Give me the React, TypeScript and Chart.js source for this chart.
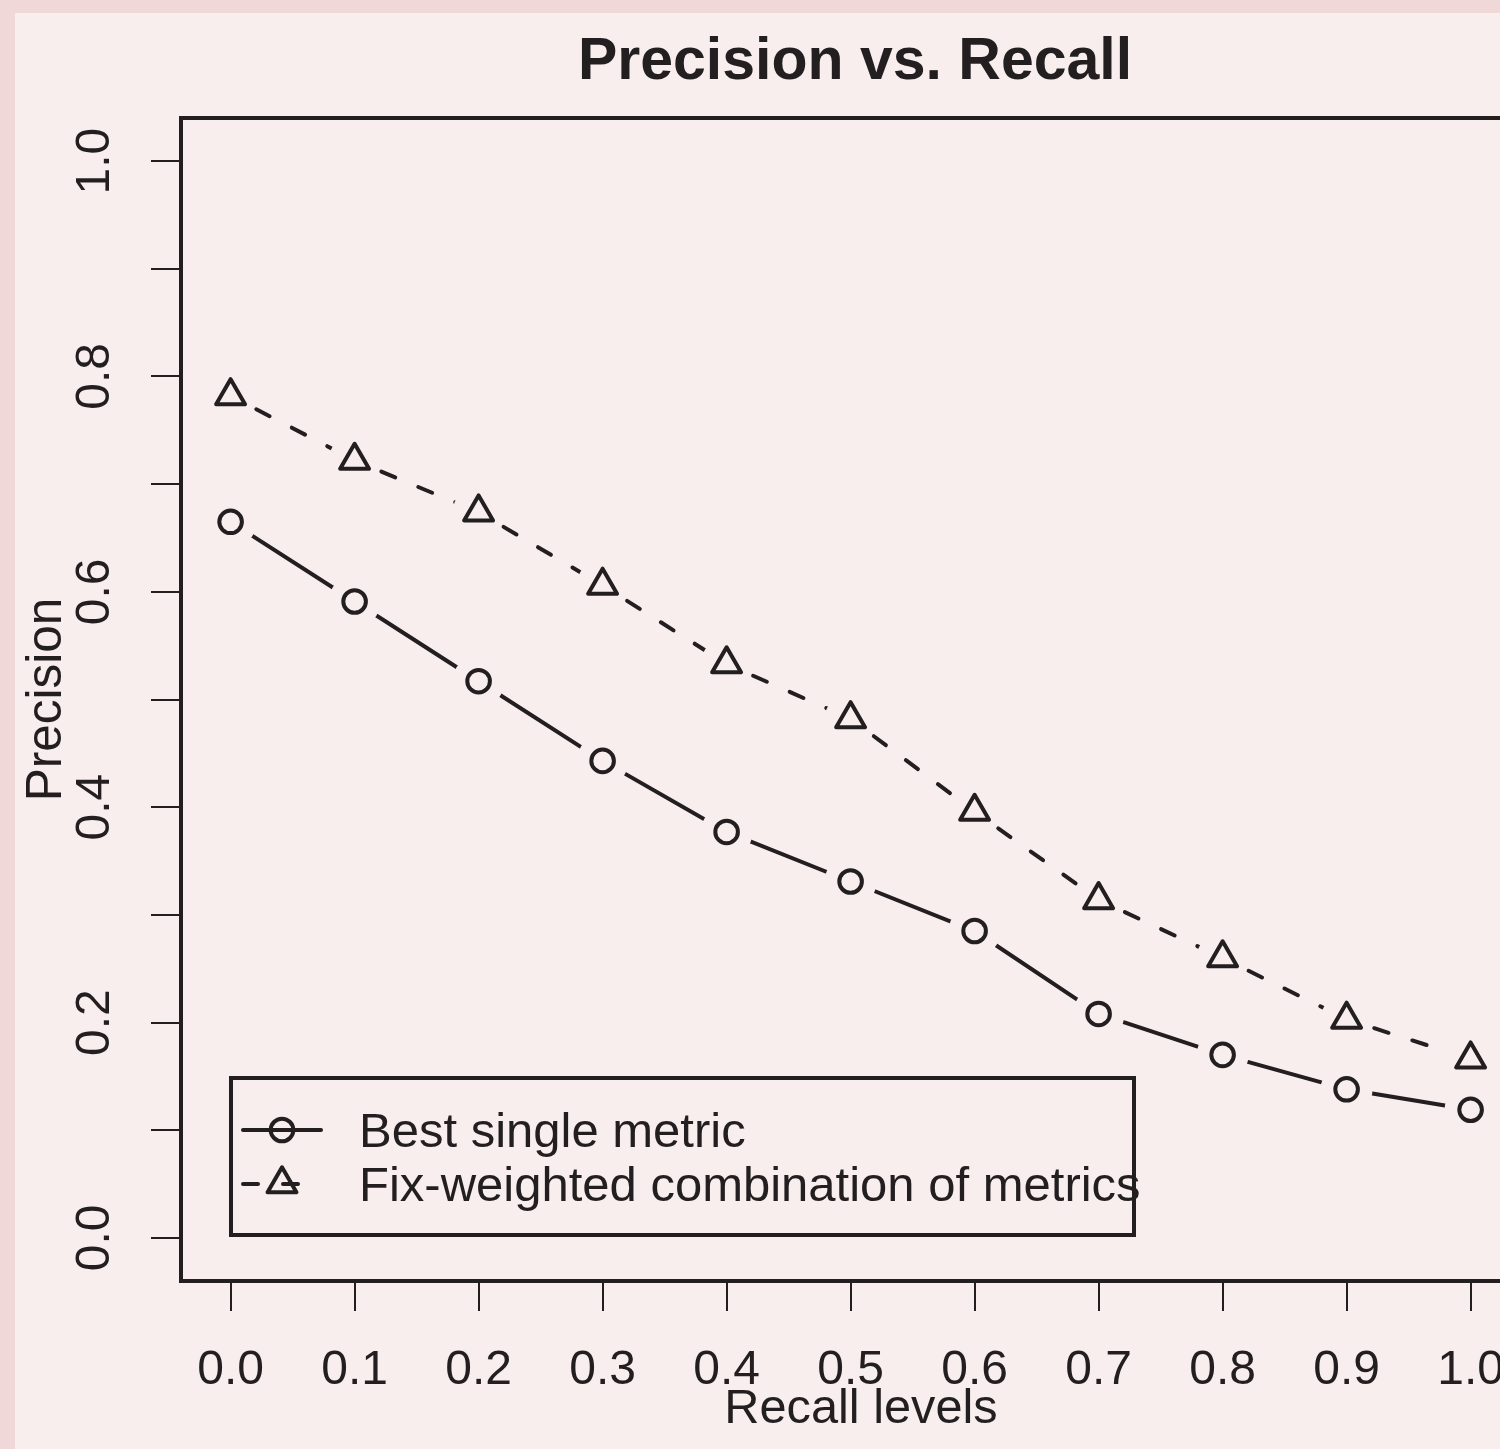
import React, { useEffect, useRef } from 'react';
import { Chart, registerables } from 'chart.js';

Chart.register(...registerables);

// ---------- data ----------
const recallLevels = [0.0, 0.1, 0.2, 0.3, 0.4, 0.5, 0.6, 0.7, 0.8, 0.9, 1.0];
const bestSingleMetric = [0.665, 0.591, 0.517, 0.443, 0.377, 0.331, 0.285, 0.208, 0.170, 0.138, 0.119];
const fixWeightedCombination = [0.782, 0.722, 0.674, 0.606, 0.533, 0.482, 0.396, 0.314, 0.260, 0.203, 0.166];

const xTickValues = [0.0, 0.1, 0.2, 0.3, 0.4, 0.5, 0.6, 0.7, 0.8, 0.9, 1.0];
const yTickValues = [0.0, 0.1, 0.2, 0.3, 0.4, 0.5, 0.6, 0.7, 0.8, 0.9, 1.0];
const yLabelledTicks = [0.0, 0.2, 0.4, 0.6, 0.8, 1.0];

const seriesLabels = ['Best single metric', 'Fix-weighted combination of metrics'];
const chartTitle = 'Precision vs. Recall';
const xAxisTitle = 'Recall levels';
const yAxisTitle = 'Precision';

// ---------- style ----------
const INK = '#231f20';
const PANEL = '#f7eeed';
const OUTER = '#f0d7d8';
const FONT = '"Liberation Sans", Arial, Helvetica, sans-serif';

const toPoints = (ys: number[]) => recallLevels.map((x, i) => ({ x, y: ys[i] }));

const zeroPadding = (s: any) => {
  s.paddingLeft = 0;
  s.paddingRight = 0;
  s.paddingTop = 0;
  s.paddingBottom = 0;
};

const decorPlugin = {
  id: 'decor',
  beforeDatasetsDraw(chart: any) {
    chart.ctx.lineJoin = 'round';
  },
  afterDraw(chart: any) {
    const ctx: CanvasRenderingContext2D = chart.ctx;
    const area = chart.chartArea;
    ctx.save();
    ctx.strokeStyle = INK;
    ctx.fillStyle = INK;

    // top frame line
    ctx.lineWidth = 4;
    ctx.lineCap = 'butt';
    ctx.beginPath();
    ctx.moveTo(area.left - 2, area.top);
    ctx.lineTo(area.right, area.top);
    ctx.stroke();

    // main title
    ctx.font = `bold 59px ${FONT}`;
    ctx.textAlign = 'center';
    ctx.textBaseline = 'alphabetic';
    ctx.fillText(chartTitle, 840, 66);

    // x axis title
    ctx.font = `48.7px ${FONT}`;
    ctx.fillText(xAxisTitle, 846, 1410);

    // legend box
    ctx.lineJoin = 'miter';
    ctx.lineWidth = 4;
    ctx.strokeRect(216, 1065, 903, 157);

    // legend row 1: solid line + circle
    const r1 = 1117;
    ctx.lineCap = 'round';
    ctx.beginPath();
    ctx.moveTo(228, r1);
    ctx.lineTo(306, r1);
    ctx.stroke();
    ctx.beginPath();
    ctx.arc(267, r1, 11.3, 0, Math.PI * 2);
    ctx.stroke();

    // legend row 2: dashed line + triangle
    const r2 = 1171;
    ctx.setLineDash([15, 25]);
    ctx.beginPath();
    ctx.moveTo(228, r2);
    ctx.lineTo(306, r2);
    ctx.stroke();
    ctx.setLineDash([]);
    ctx.lineJoin = 'round';
    const tr = 16.7;
    ctx.beginPath();
    for (let k = 0; k < 3; k++) {
      const a = (k * 2 * Math.PI) / 3;
      const px = 267 + Math.sin(a) * tr;
      const py = r2 - Math.cos(a) * tr;
      if (k === 0) ctx.moveTo(px, py);
      else ctx.lineTo(px, py);
    }
    ctx.closePath();
    ctx.stroke();

    // legend texts
    ctx.font = `49px ${FONT}`;
    ctx.textAlign = 'left';
    ctx.textBaseline = 'alphabetic';
    ctx.fillText(seriesLabels[0], 344, 1134);
    ctx.fillText(seriesLabels[1], 344, 1188);

    ctx.restore();
  },
};

export default function App() {
  const ref = useRef<HTMLCanvasElement>(null);

  useEffect(() => {
    if (!ref.current) return;
    const bestPts = toPoints(bestSingleMetric);
    const fixPts = toPoints(fixWeightedCombination);

    const chart = new Chart(ref.current, {
      type: 'line',
      data: {
        datasets: [
          {
            label: seriesLabels[0],
            data: bestPts,
            borderColor: INK,
            borderWidth: 4,
            borderCapStyle: 'round',
            borderJoinStyle: 'round',
            pointRadius: 0,
            fill: false,
            tension: 0,
            order: 3,
          },
          {
            label: seriesLabels[1],
            data: fixPts,
            borderColor: INK,
            borderWidth: 4,
            borderCapStyle: 'round',
            borderJoinStyle: 'round',
            borderDash: [15, 25],
            segment: {
              borderDashOffset: (c: any) => 11 + (c.p0DataIndex % 2) * 0.001,
            },
            pointRadius: 0,
            fill: false,
            tension: 0,
            order: 3,
          },
          {
            label: 'mask1',
            data: bestPts,
            showLine: false,
            pointRadius: 26,
            pointBackgroundColor: PANEL,
            pointBorderWidth: 0,
            order: 2,
          },
          {
            label: 'mask2',
            data: fixPts,
            showLine: false,
            pointRadius: 26,
            pointBackgroundColor: PANEL,
            pointBorderWidth: 0,
            order: 2,
          },
          {
            label: seriesLabels[0] + ' points',
            data: bestPts,
            showLine: false,
            pointStyle: 'circle',
            pointRadius: 11.3,
            pointBorderWidth: 4,
            pointBorderColor: INK,
            pointBackgroundColor: 'rgba(0,0,0,0)',
            order: 1,
          },
          {
            label: seriesLabels[1] + ' points',
            data: fixPts,
            showLine: false,
            pointStyle: 'triangle',
            pointRadius: 16.7,
            pointBorderWidth: 4,
            pointBorderColor: INK,
            pointBackgroundColor: 'rgba(0,0,0,0)',
            order: 1,
          },
        ] as any,
      },
      options: {
        animation: false,
        responsive: false,
        devicePixelRatio: 1,
        events: [],
        layout: { autoPadding: false, padding: { top: 105, left: 0, right: 0, bottom: 0 } },
        plugins: {
          legend: { display: false },
          title: { display: false },
          tooltip: { enabled: false },
        },
        scales: {
          x: {
            type: 'linear',
            min: -0.04,
            max: 1.0237,
            afterBuildTicks: (s: any) => {
              s.ticks = xTickValues.map((v) => ({ value: v }));
            },
            afterFit: (s: any) => {
              s.height = 168;
              zeroPadding(s);
            },
            grid: {
              display: true,
              drawOnChartArea: false,
              drawTicks: true,
              tickLength: 30,
              tickWidth: 2,
              tickColor: INK,
              color: INK,
              lineWidth: 2,
            },
            border: { display: true, width: 4, color: INK },
            ticks: {
              autoSkip: false,
              minRotation: 0,
              maxRotation: 0,
              padding: 0,
              color: INK,
              font: { family: FONT, size: 48, lineHeight: 2.5 },
              callback: (v: any) => Number(v).toFixed(1),
            },
          },
          y: {
            type: 'linear',
            min: -0.04,
            max: 1.04,
            afterBuildTicks: (s: any) => {
              s.ticks = yTickValues.map((v) => ({ value: v }));
            },
            afterFit: (s: any) => {
              s.width = 166;
              zeroPadding(s);
            },
            grid: {
              display: true,
              drawOnChartArea: false,
              drawTicks: true,
              tickLength: 30,
              tickWidth: 2,
              tickColor: INK,
              color: INK,
              lineWidth: 2,
            },
            border: { display: true, width: 4, color: INK },
            ticks: {
              autoSkip: false,
              minRotation: 90,
              maxRotation: 90,
              crossAlign: 'center',
              padding: 22,
              color: INK,
              font: { family: FONT, size: 48 },
              callback: (v: any) =>
                yLabelledTicks.some((t) => Math.abs(t - Number(v)) < 1e-9) ? Number(v).toFixed(1) : '',
            },
            title: {
              display: true,
              text: yAxisTitle,
              color: INK,
              font: { family: FONT, size: 49.5 },
              padding: { top: 3, bottom: 0 },
            },
          },
        },
      } as any,
      plugins: [decorPlugin],
    });

    return () => chart.destroy();
  }, []);

  return (
    <div
      style={{
        position: 'fixed',
        left: 0,
        top: 0,
        width: 1500,
        height: 1449,
        background: OUTER,
        overflow: 'hidden',
      }}
    >
      <canvas
        ref={ref}
        width={1485}
        height={1436}
        style={{ position: 'absolute', left: 15, top: 13, width: 1485, height: 1436, background: PANEL }}
      />
    </div>
  );
}
